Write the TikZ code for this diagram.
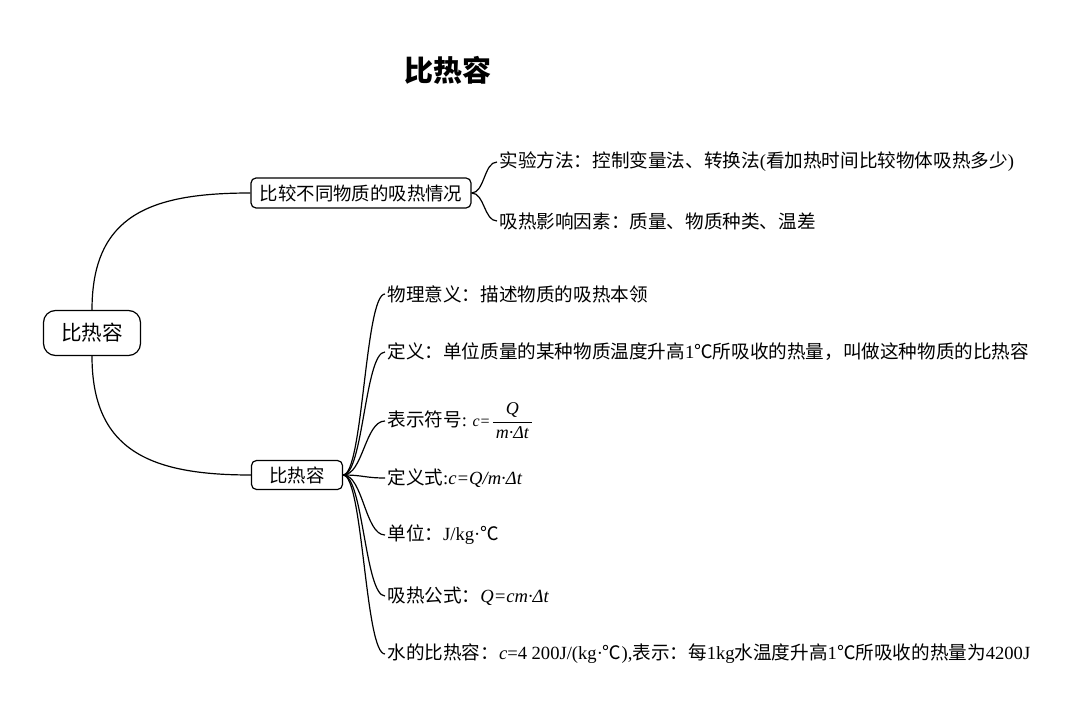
\documentclass[tikz,border=0pt]{standalone}
\usepackage{fontspec}
\setmainfont{Liberation Serif}
\newfontfamily\cjk{Noto Sans CJK SC}
\newcommand{\latn}[1]{{\rmfamily #1}}
\newcommand{\latni}[1]{{\rmfamily\itshape #1}}

\begin{document}
\begin{tikzpicture}[x=0.5pt,y=-0.5pt,
  branch/.style={line width=0.6pt},
  topicbox/.style={draw,line width=0.6pt,rounded corners=2.5pt,inner sep=0pt,font=\cjk\fontsize{9.2}{11}\selectfont},
  leaf/.style={anchor=west,inner sep=1pt,font=\cjk\fontsize{9.3}{11}\selectfont}]
\useasboundingbox (0,0) rectangle (1080,727); %Page size of the reference
\node[font=\cjk\bfseries\fontsize{14.5}{17}\selectfont] (title) at (448,70) {比热容}; %Title
\node[topicbox,rounded corners=6pt,minimum width=48.5pt,minimum height=22.5pt,font=\cjk\fontsize{10.3}{12}\selectfont] (root) at (92,333) {比热容}; %Central topic
\node[topicbox,minimum width=110pt,minimum height=15pt] (cmp) at (361,193) {比较不同物质的吸热情况}; %Upper branch
\node[topicbox,minimum width=45.5pt,minimum height=14.5pt] (def) at (297,475) {比热容}; %Lower branch
%Leaves of the upper branch
\node[leaf] (m1) at (497,162) {实验方法：控制变量法、转换法\latn{(}看加热时间比较物体吸热多少\latn{)}};
\node[leaf] (m2) at (497,221) {吸热影响因素：质量、物质种类、温差};
%Leaves of the lower branch
\node[leaf] (d1) at (385,294) {物理意义：描述物质的吸热本领};
\node[leaf] (d2) at (385,352) {定义：单位质量的某种物质温度升高\latn{1}℃所吸收的热量，叫做这种物质的比热容};
\node[leaf] (d3) at (385,421) {表示符号\latn{:} {\footnotesize\latni{c=}}$\displaystyle\frac{\mbox{\small\latni{\,Q\,}}}{\mbox{\small\latni{\,m·Δt\,}}}$};
\node[leaf] (d4) at (385,478) {定义式\latn{:}\latni{c=Q/m·Δt}};
\node[leaf] (d5) at (385,535) {单位：\latn{J/kg·}℃};
\node[leaf] (d6) at (385,596) {吸热公式：\latni{Q=cm·Δt}};
\node[leaf] (d7) at (385,654) {水的比热容：\latni{c}\latn{=4 200J/(kg·}℃\latn{),}表示：每\latn{1kg}水温度升高\latn{1}℃所吸收的热量为\latn{4200J}};
%Connectors
\draw[branch] (root.north) .. controls +(0,-95) and +(-100,0) .. (cmp.west);
\draw[branch] (root.south) .. controls +(0,95) and +(-100,0) .. (def.west);
\foreach \n in {m1,m2}
  \draw[branch] (cmp.east) .. controls +(13,0) and +(-13,0) .. (\n.west);
\foreach \n in {d1,d2,d3,d4,d5,d6,d7}
  \draw[branch] (def.east) .. controls +(20,0) and +(-20,0) .. (\n.west);
\end{tikzpicture}
\end{document}
